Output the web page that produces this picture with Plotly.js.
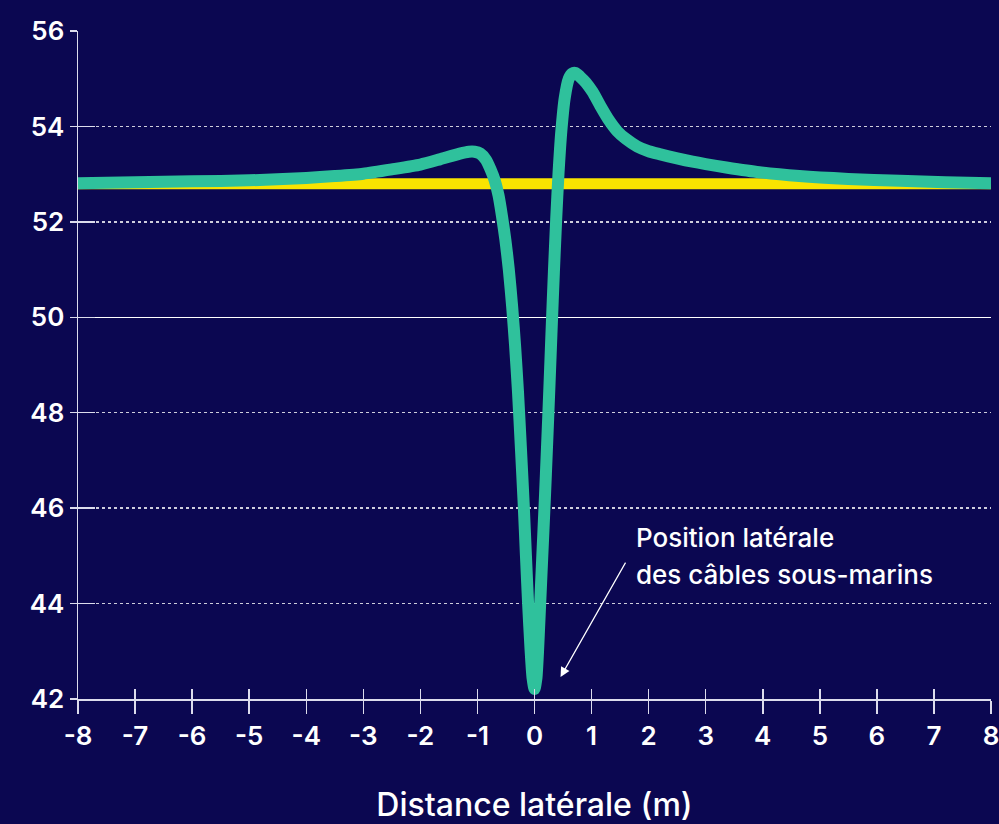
<!DOCTYPE html>
<html>
<head>
<meta charset="utf-8">
<script src="https://cdn.plot.ly/plotly-3.0.1.min.js"></script>
<style>
html,body{margin:0;padding:0;background:#0b0751;}
#chart{width:999px;height:824px;}
</style>
</head>
<body>
<div id="chart"></div>
<script>
// Reference (undisturbed) field: flat line
var baseX = [-8, -4, 0, 4, 8];
var baseY = [52.8, 52.8, 52.8, 52.8, 52.8];

// Measured field across the cable position
var fieldX = [-8, -7, -6, -5, -4, -3.5, -3, -2.5, -2.0, -1.66, -1.31, -1.15, -1.05, -0.95, -0.85, -0.77,
  -0.70, -0.63, -0.57, -0.51, -0.45, -0.39, -0.34, -0.29, -0.24, -0.19, -0.15, -0.11, -0.07, -0.035, 0,
  0.035, 0.06, 0.09, 0.135, 0.18, 0.22, 0.26, 0.30, 0.34, 0.38, 0.42, 0.47, 0.53, 0.60, 0.66, 0.72,
  0.80, 0.90, 1.02, 1.15, 1.31, 1.45, 1.60, 1.80, 2.0, 2.19, 2.5, 2.77, 3.0, 3.36, 3.94, 4.64, 5.5, 6.4, 7.2, 8];
var fieldY = [52.81, 52.83, 52.85, 52.87, 52.92, 52.96, 53.01, 53.10, 53.20, 53.31, 53.43, 53.47, 53.47, 53.43, 53.30, 53.10,
  52.88, 52.55, 52.12, 51.62, 51.00, 50.20, 49.40, 48.45, 47.30, 46.10, 45.00, 43.95, 43.05, 42.45, 42.21,
  42.45, 42.95, 43.75, 44.95, 46.15, 47.30, 48.50, 49.75, 50.95, 52.05, 53.00, 53.90, 54.60, 55.00, 55.11, 55.12,
  55.04, 54.92, 54.72, 54.44, 54.12, 53.90, 53.74, 53.58, 53.48, 53.42, 53.33, 53.26, 53.21, 53.14, 53.04, 52.96, 52.90, 52.86, 52.83, 52.81];

var xTicks = [-8, -7, -6, -5, -4, -3, -2, -1, 0, 1, 2, 3, 4, 5, 6, 7, 8];
var yTicks = [42, 44, 46, 48, 50, 52, 54, 56];
var solidGrid = [50];

var xTitle = 'Distance latérale (m)';
var noteLine1 = 'Position latérale';
var noteLine2 = 'des câbles sous-marins';

var FONT = 'Inter, "Noto Sans", sans-serif';
var WHITE = '#ffffff';
var AXIS = '#dcdcec';

var traces = [
  {x: baseX, y: baseY, type: 'scatter', mode: 'lines',
   line: {color: '#f9e400', width: 11}, hoverinfo: 'skip', showlegend: false},
  {x: fieldX, y: fieldY, type: 'scatter', mode: 'lines',
   line: {color: '#2fc19c', width: 12, shape: 'spline', smoothing: 0.6}, hoverinfo: 'skip', showlegend: false},
  {x: [], y: [], xaxis: 'x2', yaxis: 'y2', type: 'scatter', mode: 'lines', hoverinfo: 'skip', showlegend: false},
  {x: [], y: [], xaxis: 'x', yaxis: 'y3', type: 'scatter', mode: 'lines', hoverinfo: 'skip', showlegend: false}
];

var layout = {
  width: 999, height: 824,
  paper_bgcolor: '#0b0751', plot_bgcolor: '#0b0751',
  margin: {l: 78, r: 8, t: 31, b: 125},
  font: {family: FONT, color: WHITE},
  showlegend: false,
  xaxis: {
    range: [-8, 8], tickvals: xTicks, ticktext: xTicks.map(String),
    ticks: 'outside', ticklen: 13, tickwidth: 1.5, tickcolor: AXIS,
    showline: true, linecolor: AXIS, linewidth: 1.5,
    showgrid: false, zeroline: false, ticklabeloverflow: 'allow',
    tickfont: {family: FONT, size: 26, color: WHITE, weight: 600},
    title: {text: xTitle, font: {family: FONT, size: 32, color: WHITE, weight: 500}, standoff: 44}
  },
  xaxis2: {
    overlaying: 'x', anchor: 'y', range: [-8, 8], tickvals: xTicks,
    ticks: 'inside', ticklen: 10, tickwidth: 1.5, tickcolor: AXIS,
    showticklabels: false, showline: false, showgrid: false, zeroline: false
  },
  yaxis: {
    range: [42, 56], tickvals: yTicks, ticktext: yTicks.map(String),
    ticks: 'outside', ticklen: 7, tickwidth: 1.5, tickcolor: AXIS,
    showline: true, linecolor: AXIS, linewidth: 1.5,
    showgrid: true, gridcolor: 'rgba(255,255,255,0.8)', gridwidth: 1.3, griddash: 'dot',
    zeroline: false, ticklabeloverflow: 'allow',
    tickfont: {family: FONT, size: 26, color: WHITE, weight: 600}
  },
  yaxis2: {
    overlaying: 'y', anchor: 'x', range: [42, 56], tickvals: yTicks,
    ticks: 'inside', ticklen: 17, tickwidth: 1.5, tickcolor: AXIS,
    showticklabels: false, showline: false, showgrid: false, zeroline: false
  },
  yaxis3: {
    overlaying: 'y', anchor: 'x', range: [42, 56], tickvals: solidGrid,
    ticks: '', showticklabels: false, showline: false,
    showgrid: true, gridcolor: '#ffffff', gridwidth: 1.3, griddash: 'solid', zeroline: false,
    layer: 'below traces'
  },
  annotations: [
    {x: 0.456, y: 42.46, xref: 'x', yref: 'y', ax: 1.61, ay: 44.89, axref: 'x', ayref: 'y',
     text: '', showarrow: true, arrowhead: 2, arrowsize: 1.6, arrowwidth: 1.2, arrowcolor: WHITE},
    {x: 1.735, y: 45.39, xref: 'x', yref: 'y', xanchor: 'left', yanchor: 'middle', showarrow: false,
     text: noteLine1, font: {family: FONT, size: 26, color: WHITE, weight: 500}},
    {x: 1.735, y: 44.60, xref: 'x', yref: 'y', xanchor: 'left', yanchor: 'middle', showarrow: false,
     text: noteLine2, font: {family: FONT, size: 26, color: WHITE, weight: 500}}
  ]
};

Plotly.newPlot('chart', traces, layout, {staticPlot: true, displayModeBar: false});
</script>
</body>
</html>
